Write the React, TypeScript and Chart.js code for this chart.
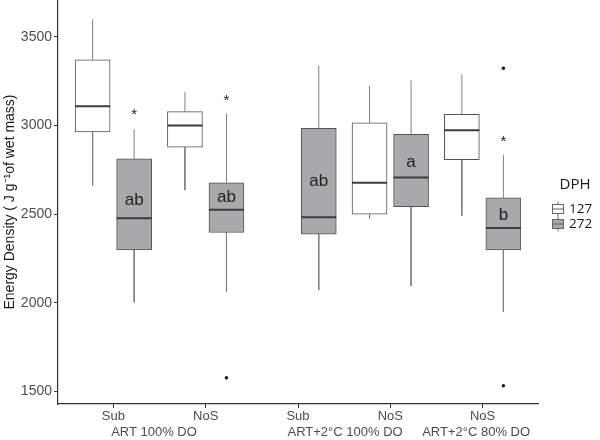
import React, { useEffect, useRef } from "react";
import { Chart, registerables } from "chart.js";

Chart.register(...registerables);

// ---- data ----
const siteLabels = ["Sub", "NoS", "Sub", "NoS", "NoS"];
const conditionLabels = ["ART 100% DO", "ART+2°C 100% DO", "ART+2°C 80% DO"];
const conditionTickPositions = [0.44, 2.51, 3.93];
const yTickValues = [1500, 2000, 2500, 3000, 3500];
const dphLabels = ["127", "272"];
const legendTitle = "DPH";
const yTitle = "Energy Density ( J g\u207B\u00B9of wet mass)";

// DPH 127 (white boxes)
const dph127Min = [2661, 2635, null, 2473, 2490];
const dph127Q1 = [2963, 2877, null, 2499, 2807];
const dph127Median = [3108, 2999, null, 2676, 2973];
const dph127Q3 = [3369, 3078, null, 3014, 3063];
const dph127Max = [3598, 3187, null, 3224, 3288];
const dph127Outliers: number[][] = [[], [], [], [], []];

// DPH 272 (grey boxes)
const dph272Min = [2001, 2060, 2071, 2094, 1949];
const dph272Q1 = [2298, 2396, 2387, 2542, 2298];
const dph272Median = [2477, 2524, 2482, 2706, 2421];
const dph272Q3 = [2811, 2676, 2984, 2950, 2591];
const dph272Max = [2978, 3068, 3337, 3254, 2834];
const dph272Outliers: number[][] = [[], [1577], [], [], [3322, 1532]];

// annotations on the 272 boxes
const starValues = [3077, 3156, null, null, 2924];
const letterLabels = ["ab", "ab", "ab", "a", "b"];
const letterValues = [2580, 2597, 2684, 2793, 2495];

// ---- styling / layout constants ----
const OFFSET = 0.225;
const HALF = 0.19;
const WHITE = "#ffffff";
const GREY = "#a9a9ac";
const BOX_BORDER = "#555555";
const WHISKER = "#808080";
const MEDIAN = "#3c3c3c";

type N = number | null;

function boxes(q1: N[], q3: N[], off: number) {
  const out: any[] = [];
  q1.forEach((v, i) => {
    if (v != null && q3[i] != null) out.push({ x: i + off, y: [v, q3[i]] });
  });
  return out;
}

function whiskers(min: N[], q1: N[], q3: N[], max: N[], off: number) {
  const out: any[] = [];
  min.forEach((v, i) => {
    if (v == null) return;
    const x = i + off;
    out.push({ x, y: q3[i] }, { x, y: max[i] }, { x, y: null });
    out.push({ x, y: q1[i] }, { x, y: v }, { x, y: null });
  });
  return out;
}

function medians(med: N[], off: number) {
  const out: any[] = [];
  med.forEach((v, i) => {
    if (v == null) return;
    const x = i + off;
    out.push({ x: x - HALF, y: v }, { x: x + HALF, y: v }, { x: x + HALF, y: null });
  });
  return out;
}

function outliers(list: number[][], off: number) {
  const out: any[] = [];
  list.forEach((arr, i) => arr.forEach((v) => out.push({ x: i + off, y: v })));
  return out;
}

function legendIcon(fill: string) {
  const c = document.createElement("canvas");
  c.width = 14;
  c.height = 16;
  const g = c.getContext("2d")!;
  g.strokeStyle = "#666666";
  g.lineWidth = 1;
  g.beginPath();
  g.moveTo(7, 0.5);
  g.lineTo(7, 15.5);
  g.stroke();
  g.fillStyle = fill;
  g.fillRect(1.5, 3.5, 11, 9);
  g.strokeRect(1.5, 3.5, 11, 9);
  g.beginPath();
  g.moveTo(1.5, 8);
  g.lineTo(12.5, 8);
  g.stroke();
  return c;
}

const annotationPlugin = {
  id: "boxAnnotations",
  afterDatasetsDraw(chart: any) {
    const { ctx, scales } = chart;
    const xs = scales.x;
    const ys = scales.y;
    ctx.save();
    ctx.fillStyle = "#222222";
    ctx.textAlign = "center";
    ctx.textBaseline = "middle";
    ctx.font = "17px 'Liberation Sans', Arial, sans-serif";
    letterLabels.forEach((t, i) => {
      ctx.fillText(t, xs.getPixelForValue(i + OFFSET), ys.getPixelForValue(letterValues[i]));
    });
    ctx.font = "15px 'Liberation Sans', Arial, sans-serif";
    starValues.forEach((v, i) => {
      if (v == null) return;
      ctx.fillText("*", xs.getPixelForValue(i + OFFSET), ys.getPixelForValue(v) + 3);
    });
    ctx.restore();
  },
  afterDraw(chart: any) {
    const { ctx, chartArea } = chart;
    const left = chartArea.right;
    ctx.save();
    ctx.fillStyle = "#1a1a1a";
    ctx.textBaseline = "middle";
    ctx.font = "15px 'Open Sans', sans-serif";
    ctx.textAlign = "center";
    ctx.fillText(legendTitle, left + 37, 185);
    ctx.textAlign = "left";
    ctx.font = "13.5px 'Open Sans', sans-serif";
    const fills = [WHITE, GREY];
    dphLabels.forEach((t, i) => {
      const y = 209 + i * 15;
      const icon = legendIcon(fills[i]);
      ctx.drawImage(icon, left + 13, y - 8);
      ctx.fillText(t, left + 31, y);
    });
    ctx.restore();
  },
};

export default function App() {
  const ref = useRef<HTMLCanvasElement>(null);
  useEffect(() => {
    if (!ref.current) return;
    const tickValues = [
      ...siteLabels.map((_, i) => i),
      ...conditionTickPositions,
    ].sort((a, b) => a - b);
    const chart = new Chart(ref.current, {
      type: "bar",
      data: {
        datasets: [
          {
            type: "line",
            data: medians(dph127Median, -OFFSET),
            borderColor: MEDIAN,
            borderWidth: 2,
            pointRadius: 0,
            spanGaps: false,
            order: 0,
          } as any,
          {
            type: "line",
            data: medians(dph272Median, OFFSET),
            borderColor: MEDIAN,
            borderWidth: 2,
            pointRadius: 0,
            spanGaps: false,
            order: 0,
          } as any,
          {
            label: dphLabels[0],
            data: boxes(dph127Q1, dph127Q3, -OFFSET),
            backgroundColor: WHITE,
            borderColor: BOX_BORDER,
            borderWidth: 1,
            borderSkipped: false,
            grouped: false,
            barThickness: 35,
            order: 2,
          } as any,
          {
            label: dphLabels[1],
            data: boxes(dph272Q1, dph272Q3, OFFSET),
            backgroundColor: GREY,
            borderColor: BOX_BORDER,
            borderWidth: 1,
            borderSkipped: false,
            grouped: false,
            barThickness: 35,
            order: 2,
          } as any,
          {
            type: "line",
            data: whiskers(dph127Min, dph127Q1, dph127Q3, dph127Max, -OFFSET),
            borderColor: WHISKER,
            borderWidth: 1,
            pointRadius: 0,
            spanGaps: false,
            order: 3,
          } as any,
          {
            type: "line",
            data: whiskers(dph272Min, dph272Q1, dph272Q3, dph272Max, OFFSET),
            borderColor: WHISKER,
            borderWidth: 1,
            pointRadius: 0,
            spanGaps: false,
            order: 3,
          } as any,
          {
            type: "scatter",
            data: [...outliers(dph127Outliers, -OFFSET), ...outliers(dph272Outliers, OFFSET)],
            backgroundColor: "#111111",
            borderWidth: 0,
            pointRadius: 1.7,
            order: 1,
          } as any,
        ],
      },
      options: {
        animation: false,
        responsive: false,
        events: [],
        layout: { autoPadding: false, padding: { left: 0, right: 62, top: 0, bottom: 0 } },
        plugins: { legend: { display: false }, tooltip: { enabled: false } },
        scales: {
          x: {
            type: "linear",
            min: -0.6,
            max: 4.6,
            offset: false,
            afterBuildTicks: (s: any) => {
              s.ticks = tickValues.map((v) => ({ value: v }));
            },
            afterFit: (s: any) => {
              s.height = 36;
              s.paddingLeft = 0;
              s.paddingRight = 0;
            },
            ticks: {
              autoSkip: false,
              maxRotation: 0,
              minRotation: 0,
              padding: 1,
              color: "#4d4d4d",
              font: { family: "'Liberation Sans', Arial, sans-serif", size: 13 },
              callback: (v: any) => {
                const ci = conditionTickPositions.indexOf(v);
                if (ci >= 0) return ["", conditionLabels[ci]];
                return siteLabels[Math.round(v)];
              },
            },
            grid: {
              offset: false,
              drawOnChartArea: false,
              drawTicks: true,
              tickLength: 4,
              tickColor: (c: any) =>
                c.tick && conditionTickPositions.indexOf(c.tick.value) >= 0 ? "rgba(0,0,0,0)" : "#333333",
            },
            border: { display: true, color: "#333333", width: 1.2 },
          },
          y: {
            type: "linear",
            min: 1429,
            max: 3707,
            offset: false,
            afterBuildTicks: (s: any) => {
              s.ticks = yTickValues.map((v) => ({ value: v }));
            },
            afterFit: (s: any) => {
              s.width = 58;
              s.paddingTop = 0;
              s.paddingBottom = 0;
            },
            ticks: {
              padding: 2,
              color: "#4d4d4d",
              font: { family: "'Liberation Sans', Arial, sans-serif", size: 14 },
              callback: (v: any) => String(v),
            },
            grid: { drawOnChartArea: false, drawTicks: true, tickLength: 4, tickColor: "#333333" },
            border: { display: true, color: "#333333", width: 1.2 },
            title: {
              display: true,
              text: yTitle,
              color: "#1a1a1a",
              padding: { top: 2, bottom: 0 },
              font: { family: "'Liberation Sans', Arial, sans-serif", size: 14 },
            },
          },
        },
      },
      plugins: [annotationPlugin],
    });
    return () => chart.destroy();
  }, []);
  return (
    <div style={{ position: "fixed", left: 0, top: 0, width: 600, height: 440, background: "#fff" }}>
      <canvas ref={ref} width={600} height={440} style={{ display: "block" }} />
    </div>
  );
}
